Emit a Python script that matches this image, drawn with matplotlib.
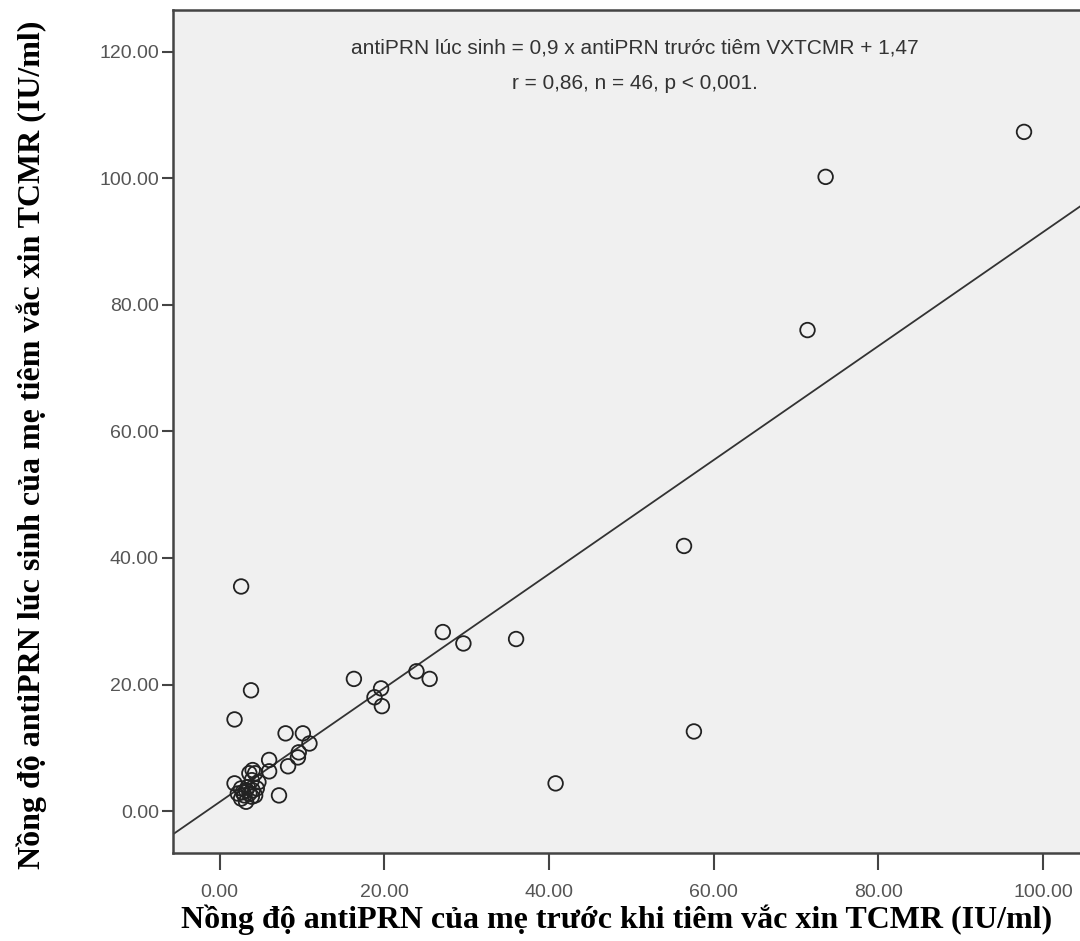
import numpy as np
import matplotlib.pyplot as plt

# antiPRN cua me truoc tiem (x) va luc sinh (y), IU/ml
xVals = [97.7, 73.6, 71.4, 56.4, 57.6, 40.8, 36.0, 29.6, 27.1, 23.9,
         25.5, 16.3, 19.6, 18.8, 19.7, 2.6, 3.8, 1.8, 8.0, 10.1,
         10.9, 9.6, 9.5, 6.0, 8.3, 6.0, 7.2,
         1.8, 2.6, 2.2, 3.2, 3.6, 4.0, 4.3, 3.9, 4.7, 4.5,
         3.0, 3.2, 3.9, 4.0, 2.6, 3.4, 3.6, 4.3, 2.8]
yVals = [107.3, 100.2, 76.0, 41.9, 12.6, 4.4, 27.2, 26.5, 28.3, 22.1,
         20.9, 20.9, 19.4, 18.0, 16.6, 35.5, 19.1, 14.5, 12.3, 12.3,
         10.7, 9.3, 8.5, 8.1, 7.1, 6.3, 2.5,
         4.4, 3.6, 2.8, 3.3, 6.0, 6.5, 6.0, 4.9, 4.6, 3.6,
         2.5, 1.5, 2.3, 3.3, 2.0, 3.8, 2.8, 2.5, 3.0]

# regression line
slope = 0.9
intercept = 1.47

xTicks = [0, 20, 40, 60, 80, 100]
yTicks = [0, 20, 40, 60, 80, 100, 120]

fig = plt.figure(figsize=(10.8, 9.41), dpi=100)
ax = fig.add_axes([0.160, 0.0935, 0.840, 0.8955])
ax.set_facecolor("#f0f0f0")

xmin, xmax = -5.7, 104.5
ymin, ymax = -6.6, 126.5
lineX = np.array([xmin, xmax])
ax.plot(lineX, slope * lineX + intercept, color="#333333", linewidth=1.3)
ax.scatter(xVals, yVals, s=110, facecolors="none", edgecolors="#222222", linewidths=1.3, zorder=3)

ax.set_xlim(xmin, xmax)
ax.set_ylim(ymin, ymax)
ax.set_xticks(xTicks)
ax.set_yticks(yTicks)
ax.set_xticklabels(["%.2f" % v for v in xTicks])
ax.set_yticklabels(["%.2f" % v for v in yTicks])

for side in ["left", "bottom", "top"]:
    ax.spines[side].set_color("#444444")
    ax.spines[side].set_linewidth(1.8)
ax.spines["right"].set_visible(False)

ax.tick_params(axis="both", direction="out", color="#444444", width=1.5,
               labelcolor="#555555", labelsize=14)
ax.tick_params(axis="x", length=12, pad=10)
ax.tick_params(axis="y", length=8, pad=2)
for lab in ax.get_xticklabels() + ax.get_yticklabels():
    lab.set_family("Liberation Sans")

ax.text(0.509, 0.955, "antiPRN lúc sinh = 0,9 x antiPRN trước tiêm VXTCMR + 1,47",
        transform=ax.transAxes, ha="center", va="center", fontsize=15,
        color="#333333", family="Liberation Sans")
ax.text(0.509, 0.913, "r = 0,86, n = 46, p < 0,001.",
        transform=ax.transAxes, ha="center", va="center", fontsize=15,
        color="#333333", family="Liberation Sans")

fig.text(0.571, 0.006, "Nồng độ antiPRN của mẹ trước khi tiêm vắc xin TCMR (IU/ml)",
         ha="center", va="bottom", fontsize=23, fontweight="bold", family="Liberation Serif")
fig.text(0.015, 0.527, "Nồng độ antiPRN lúc sinh của mẹ tiêm vắc xin TCMR (IU/ml)",
         ha="left", va="center", rotation=90, fontsize=23, fontweight="bold",
         family="Liberation Serif")

plt.savefig("out.png", dpi=100)
